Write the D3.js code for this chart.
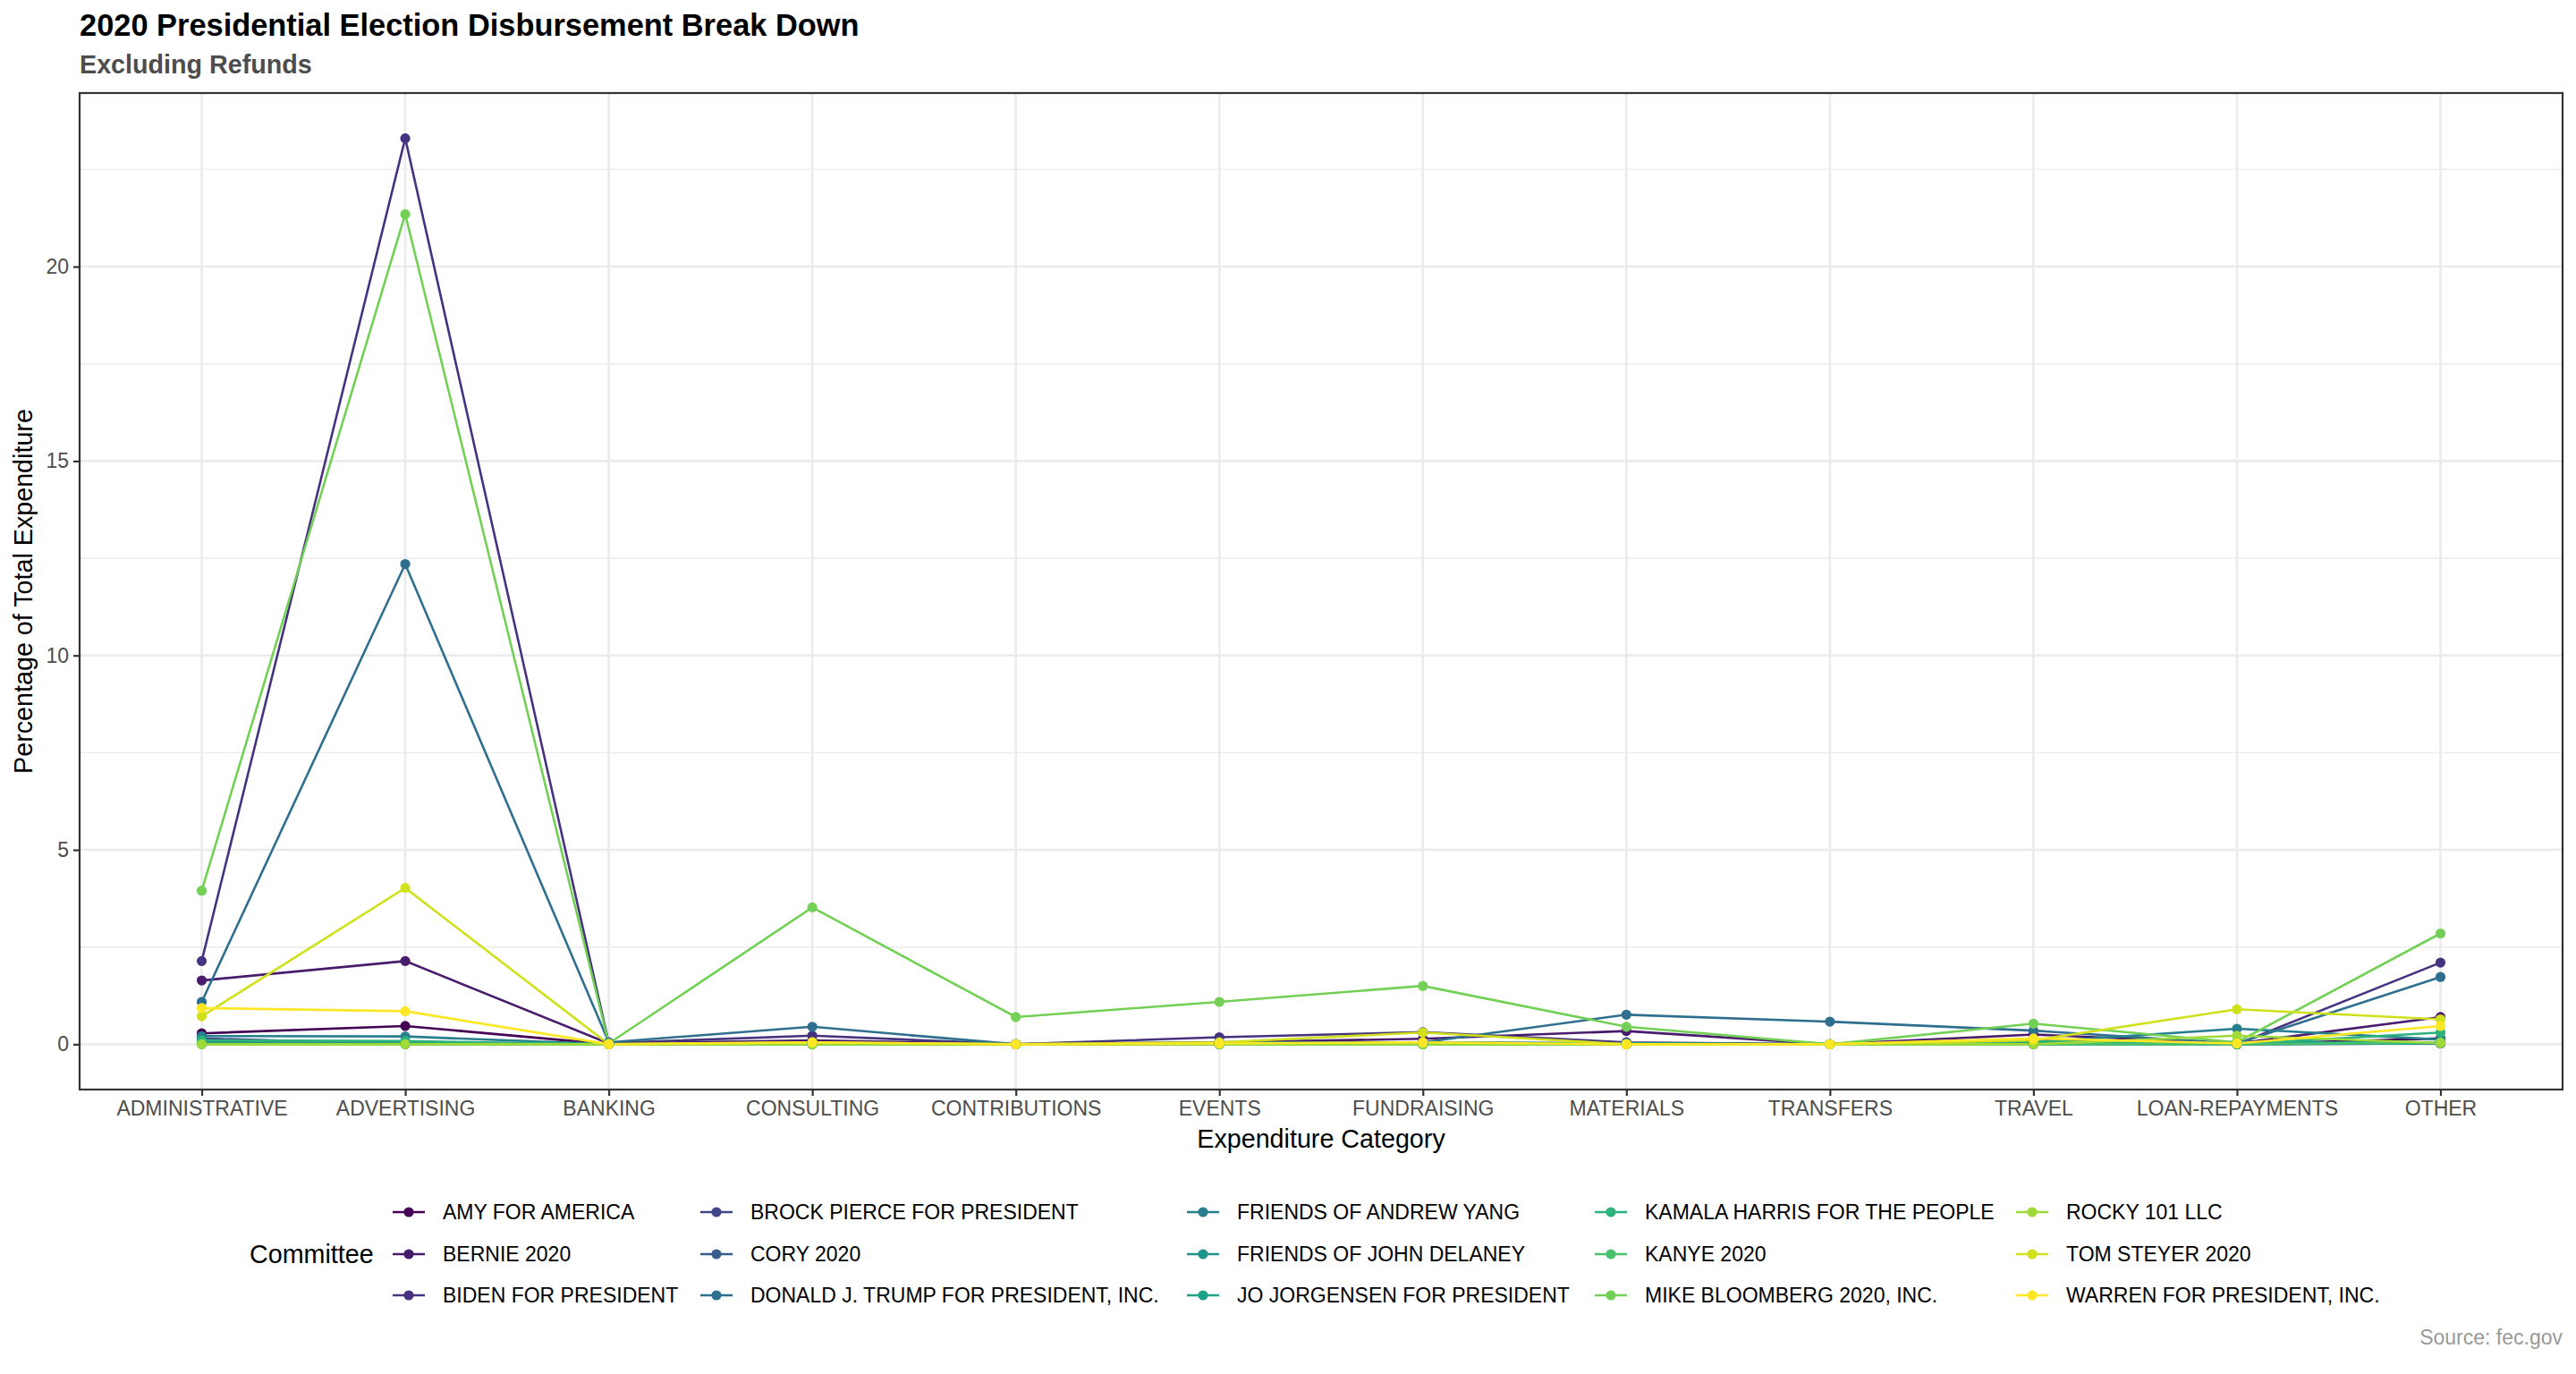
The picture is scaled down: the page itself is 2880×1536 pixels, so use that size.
<!DOCTYPE html>
<html>
<head>
<meta charset="utf-8">
<script src="https://cdn.jsdelivr.net/npm/d3@7"></script>
<style>
  body { margin: 0; background: #fff; }
  text { font-family: "Liberation Sans", Arial, Helvetica, sans-serif; }
</style>
</head>
<body>
<div id="chart"></div>
<script>
var categories = ["ADMINISTRATIVE", "ADVERTISING", "BANKING", "CONSULTING", "CONTRIBUTIONS", "EVENTS",
  "FUNDRAISING", "MATERIALS", "TRANSFERS", "TRAVEL", "LOAN-REPAYMENTS", "OTHER"];

var committees = ["AMY FOR AMERICA", "BERNIE 2020", "BIDEN FOR PRESIDENT", "BROCK PIERCE FOR PRESIDENT",
  "CORY 2020", "DONALD J. TRUMP FOR PRESIDENT, INC.", "FRIENDS OF ANDREW YANG", "FRIENDS OF JOHN DELANEY",
  "JO JORGENSEN FOR PRESIDENT", "KAMALA HARRIS FOR THE PEOPLE", "KANYE 2020", "MIKE BLOOMBERG 2020, INC.",
  "ROCKY 101 LLC", "TOM STEYER 2020", "WARREN FOR PRESIDENT, INC."];

// percentage of total expenditure, one array per committee, in category order
var amy       = [0.28, 0.47, 0, 0.05, 0, 0.03, 0.05, 0.02, 0, 0.05, 0, 0.15];
var bernie    = [1.64, 2.14, 0.02, 0.10, 0, 0.05, 0.14, 0.34, 0, 0.25, 0.02, 0.70];
var biden     = [2.14, 23.3, 0.03, 0.22, 0, 0.18, 0.31, 0.05, 0, 0.10, 0, 2.10];
var brock     = [0.15, 0, 0, 0, 0, 0, 0, 0, 0, 0, 0, 0.02];
var cory      = [0.05, 0.02, 0, 0.02, 0, 0, 0.01, 0, 0, 0.02, 0, 0.05];
var trump     = [1.09, 12.35, 0.05, 0.45, 0, 0.05, 0.05, 0.76, 0.58, 0.35, 0.02, 1.73];
var yang      = [0.21, 0.20, 0, 0.02, 0, 0.01, 0.02, 0.02, 0, 0.05, 0.40, 0.12];
var delaney   = [0.05, 0.05, 0, 0.01, 0, 0, 0, 0, 0, 0.02, 0.05, 0.05];
var jorgensen = [0.01, 0.01, 0, 0, 0, 0, 0, 0, 0, 0, 0, 0.02];
var kamala    = [0.10, 0.08, 0, 0.04, 0, 0.02, 0.05, 0.02, 0, 0.08, 0, 0.30];
var kanye     = [0, 0, 0, 0, 0, 0, 0, 0, 0, 0, 0, 0.05];
var bloomberg = [3.95, 21.35, 0.02, 3.52, 0.70, 1.09, 1.50, 0.45, 0, 0.53, 0.05, 2.85];
var rocky     = [0, 0, 0, 0, 0, 0, 0, 0, 0, 0, 0.22, 0.03];
var steyer    = [0.72, 4.02, 0, 0.05, 0, 0.05, 0.30, 0, 0, 0.10, 0.90, 0.64];
var warren    = [0.93, 0.85, 0, 0.05, 0, 0.02, 0.05, 0, 0, 0.15, 0.02, 0.47];

var yTicks = [0, 5, 10, 15, 20];

var seriesValues = [amy, bernie, biden, brock, cory, trump, yang, delaney, jorgensen,
  kamala, kanye, bloomberg, rocky, steyer, warren];

var series = committees.map(function(name, i) {
  return { name: name, values: seriesValues[i].map(function(v, j) { return { cat: categories[j], value: v }; }) };
});

var width = 2880, height = 1536;
var panel = { left: 89, right: 2865, top: 104, bottom: 1218 };

var svg = d3.select("#chart")
    .append("svg")
    .attr("width", width)
    .attr("height", height)

svg.append("rect").attr("width", width).attr("height", height).attr("fill", "#fff")

var color = d3.scaleOrdinal()
    .domain(committees)
    .range(committees.map(function(d, i) { return d3.interpolateViridis(i / (committees.length - 1)); }))

var yMax = d3.max(seriesValues, function(s) { return d3.max(s); });
var yPad = yMax * 0.05;
var y = d3.scaleLinear()
    .domain([-yPad, yMax + yPad])
    .range([panel.bottom, panel.top])

var x = d3.scalePoint()
    .domain(categories)
    .range([panel.left, panel.right])
    .padding(0.6)

// grid
var grid = svg.append("g")
var minorTicks = d3.range(2.5, yMax + yPad, 5);
grid.selectAll(".minor")
    .data(minorTicks)
    .enter().append("line")
    .attr("x1", panel.left).attr("x2", panel.right)
    .attr("y1", d => y(d)).attr("y2", d => y(d))
    .attr("stroke", "#ebebeb").attr("stroke-width", 1.4)

grid.selectAll(".majorY")
    .data(yTicks)
    .enter().append("line")
    .attr("x1", panel.left).attr("x2", panel.right)
    .attr("y1", d => y(d)).attr("y2", d => y(d))
    .attr("stroke", "#ebebeb").attr("stroke-width", 2.6)

grid.selectAll(".majorX")
    .data(categories)
    .enter().append("line")
    .attr("x1", d => x(d)).attr("x2", d => x(d))
    .attr("y1", panel.top).attr("y2", panel.bottom)
    .attr("stroke", "#ebebeb").attr("stroke-width", 2.6)

// lines then points
var line = d3.line()
    .x(d => x(d.cat))
    .y(d => y(d.value))

svg.append("g").selectAll("path")
    .data(series)
    .enter().append("path")
    .attr("d", d => line(d.values))
    .attr("fill", "none")
    .attr("stroke", d => color(d.name))
    .attr("stroke-width", 2.6)

var pts = svg.append("g")
series.forEach(function(s) {
  pts.selectAll(null)
    .data(s.values)
    .enter().append("circle")
    .attr("cx", d => x(d.cat))
    .attr("cy", d => y(d.value))
    .attr("r", 5.6)
    .attr("fill", color(s.name))
})

// panel border
svg.append("rect")
    .attr("x", panel.left).attr("y", panel.top)
    .attr("width", panel.right - panel.left)
    .attr("height", panel.bottom - panel.top)
    .attr("fill", "none")
    .attr("stroke", "#333333")
    .attr("stroke-width", 2.2)

// axes
var yAxis = svg.append("g")
    .attr("transform", "translate(" + panel.left + ",0)")
    .call(d3.axisLeft(y).tickValues(yTicks).tickSize(7).tickPadding(5))
yAxis.select(".domain").remove()
yAxis.selectAll("line").attr("stroke", "#333333").attr("stroke-width", 2.2)
yAxis.selectAll("text").attr("font-size", 23).attr("fill", "#4d4d4d")
    .style("font-family", "'Liberation Sans', Arial, Helvetica, sans-serif")

var xAxis = svg.append("g")
    .attr("transform", "translate(0," + panel.bottom + ")")
    .call(d3.axisBottom(x).tickSize(7).tickPadding(6))
xAxis.select(".domain").remove()
xAxis.selectAll("line").attr("stroke", "#333333").attr("stroke-width", 2.2)
xAxis.selectAll("text").attr("font-size", 23).attr("fill", "#4d4d4d")
    .style("font-family", "'Liberation Sans', Arial, Helvetica, sans-serif")

svg.append("text")
    .text("Expenditure Category")
    .attr("x", (panel.left + panel.right) / 2)
    .attr("y", 1283)
    .attr("text-anchor", "middle")
    .attr("font-size", 28.7)
    .attr("fill", "#000")

svg.append("text")
    .text("Percentage of Total Expenditure")
    .attr("transform", "translate(36," + ((panel.top + panel.bottom) / 2) + ") rotate(-90)")
    .attr("text-anchor", "middle")
    .attr("font-size", 28.7)
    .attr("fill", "#000")

// titles
svg.append("text")
    .text("2020 Presidential Election Disbursement Break Down")
    .attr("x", panel.left).attr("y", 40)
    .attr("font-size", 34.4)
    .attr("font-weight", "bold")
    .attr("fill", "#000")

svg.append("text")
    .text("Excluding Refunds")
    .attr("x", panel.left).attr("y", 82)
    .attr("font-size", 28.7)
    .attr("font-weight", "bold")
    .attr("fill", "#4d4d4d")

svg.append("text")
    .text("Source: fec.gov")
    .attr("x", panel.right).attr("y", 1503)
    .attr("text-anchor", "end")
    .attr("font-size", 23)
    .attr("fill", "#999999")

// legend
var colX = [457, 801, 1345, 1801, 2272];
var rowY = [1355, 1402, 1448];

svg.append("text")
    .text("Committee")
    .attr("x", 279).attr("y", rowY[1])
    .attr("dy", "0.35em")
    .attr("font-size", 28.7)
    .attr("fill", "#000")

var legend = svg.append("g")
var item = legend.selectAll("g")
    .data(committees)
    .enter().append("g")
    .attr("transform", function(d, i) {
      return "translate(" + colX[Math.floor(i / 3)] + "," + rowY[i % 3] + ")";
    })

item.append("line")
    .attr("x1", -18).attr("x2", 18)
    .attr("stroke", d => color(d))
    .attr("stroke-width", 2.6)

item.append("circle")
    .attr("r", 5.6)
    .attr("fill", d => color(d))

item.append("text")
    .text(d => d)
    .attr("x", 38)
    .attr("dy", "0.35em")
    .attr("font-size", 23)
    .attr("fill", "#000")
</script>
</body>
</html>
